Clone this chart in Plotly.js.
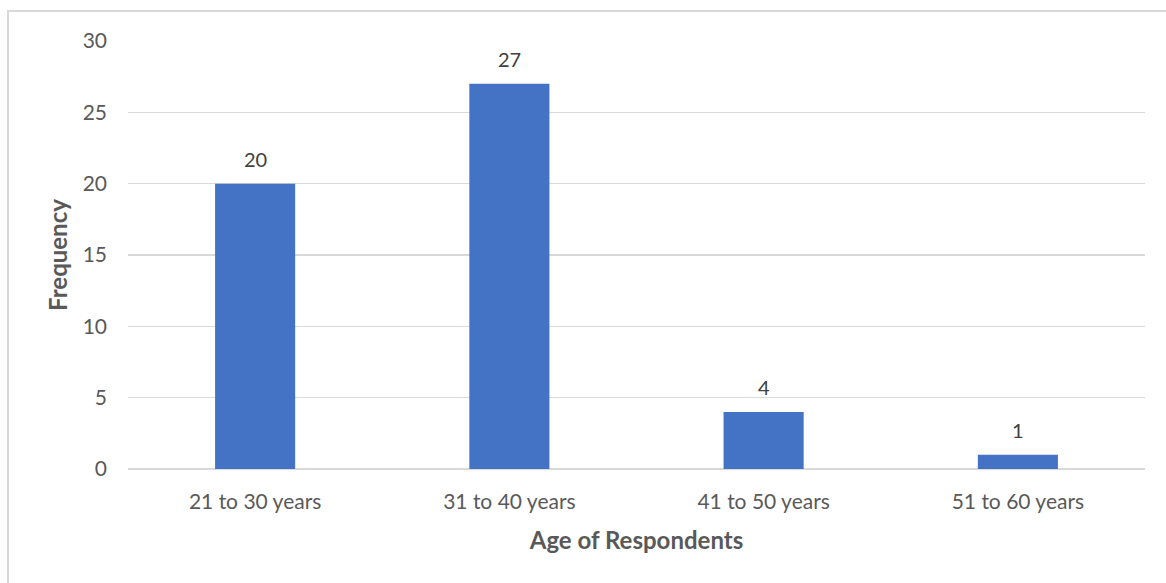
<!DOCTYPE html>
<html>
<head>
<meta charset="utf-8">
<script src="https://cdn.plot.ly/plotly-3.0.1.min.js"></script>
<style>
html,body{margin:0;padding:0;background:#fff;}
#frame{position:absolute;left:7px;top:10px;width:1180px;height:600px;border-left:2px solid #d9d9d9;border-top:2px solid #d9d9d9;pointer-events:none;}
#chart{width:1166px;height:583px;}
</style>
</head>
<body>
<div id="chart"></div>
<div id="frame"></div>
<script>
const categories = ["21 to 30 years", "31 to 40 years", "41 to 50 years", "51 to 60 years"];
const frequency = [20, 27, 4, 1];
const yTicks = [0, 5, 10, 15, 20, 25, 30];

const trace = {
  type: 'bar',
  x: categories,
  y: frequency,
  marker: {color: '#4472C4'},
  hoverinfo: 'x+y'
};

const labels = categories.map((c, i) => ({
  x: c, y: frequency[i], xref: 'x', yref: 'y',
  text: String(frequency[i]), showarrow: false,
  yanchor: 'bottom', yshift: 11,
  font: {family: 'Lato, Open Sans, sans-serif', size: 20, color: '#404040'}
}));

const layout = {
  width: 1166, height: 583,
  margin: {l: 128, r: 21, t: 41, b: 114},
  paper_bgcolor: '#ffffff',
  plot_bgcolor: '#ffffff',
  bargap: 0.685,
  showlegend: false,
  font: {family: 'Lato, Open Sans, sans-serif', color: '#595959'},
  annotations: labels,
  xaxis: {
    type: 'category',
    showgrid: false,
    showline: false,
    ticks: '',
    ticklabelstandoff: 18,
    tickfont: {size: 21, color: '#595959'},
    title: {text: '<b>Age of Respondents</b>', font: {size: 24, color: '#595959'}, standoff: 20}
  },
  yaxis: {
    range: [0, 30],
    tickvals: yTicks,
    ticktext: yTicks.map(String),
    showgrid: true,
    gridcolor: '#d9d9d9',
    gridwidth: 1.5,
    zeroline: true,
    zerolinecolor: '#d9d9d9',
    zerolinewidth: 1.5,
    ticks: '',
    ticklabelstandoff: 20,
    tickfont: {size: 21, color: '#595959'},
    title: {text: '<b>Frequency</b>', font: {size: 24, color: '#595959'}, standoff: 8}
  }
};

Plotly.newPlot('chart', [trace], layout, {displayModeBar: false, staticPlot: true});
</script>
</body>
</html>
